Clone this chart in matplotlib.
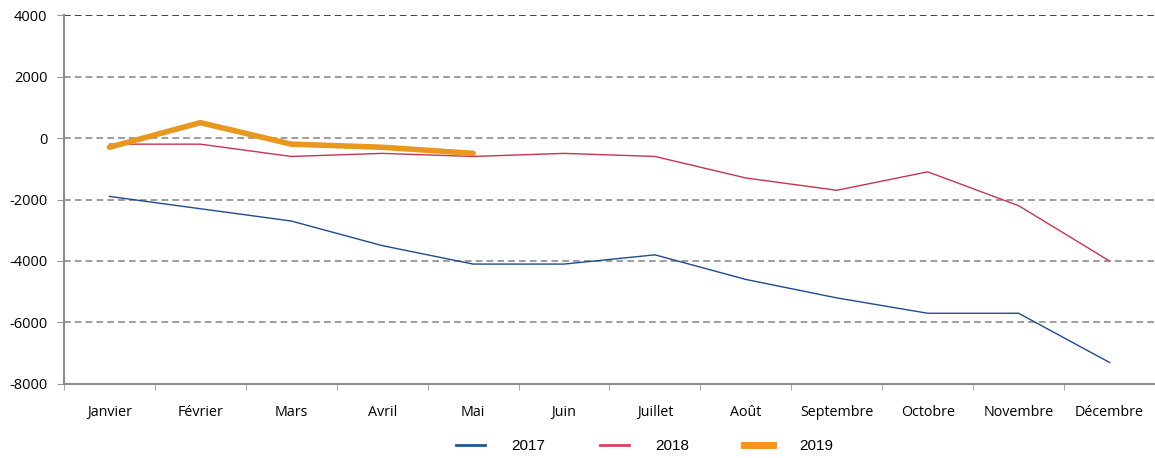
import matplotlib.pyplot as plt
from matplotlib.lines import Line2D

months = ['Janvier', 'Février', 'Mars', 'Avril', 'Mai', 'Juin', 'Juillet',
          'Août', 'Septembre', 'Octobre', 'Novembre', 'Décembre']
v2017 = [-1900, -2300, -2700, -3500, -4100, -4100, -3800, -4600, -5200, -5700, -5700, -7300]
v2018 = [-200, -200, -600, -500, -600, -500, -600, -1300, -1700, -1100, -2200, -4000]
v2019 = [-300, 500, -200, -300, -500]

plt.rcParams['font.family'] = ['Open Sans', 'DejaVu Sans']
plt.rcParams['axes.unicode_minus'] = False

fig = plt.figure(figsize=(11.55, 4.58), dpi=100)
ax = fig.add_axes([0.0554, 0.1616, 0.9446, 0.8056])

x = list(range(len(months)))
ax.plot(x, v2017, color='#1f4b8f', lw=1.0)
ax.plot(x, v2018, color='#c8344f', lw=1.0)
ax.plot(x[:len(v2019)], v2019, color='#e8981e', lw=4, solid_capstyle='round')

ax.set_xlim(-0.5, 11.5)
ax.set_ylim(-8000, 4000)
ax.set_yticks(range(-8000, 4001, 2000))
ax.set_xticks(x)
ax.set_xticklabels(months, fontsize=10.3)
ax.set_xticks([i - 0.5 for i in range(13)], minor=True)
ax.tick_params(axis='x', which='major', length=0, pad=15)
ax.tick_params(axis='x', which='minor', length=4, color='#999999')
ax.tick_params(axis='y', length=5, color='#999999', labelsize=10.5, pad=7)

for yv in range(-6000, 4001, 2000):
    col = '#222222' if yv == 4000 else '#8c8c8c'
    ax.axhline(yv, color=col, lw=1.2, ls=(0, (4, 2.5)), zorder=0)

for s in ['top', 'right']:
    ax.spines[s].set_visible(False)
ax.spines['left'].set_color('#8c8c8c')
ax.spines['left'].set_linewidth(1.5)
ax.spines['bottom'].set_color('#8c8c8c')
ax.spines['bottom'].set_linewidth(1.5)
ax.spines['bottom'].set_linestyle((0, (4, 1)))

handles = [Line2D([], [], color='#1f5a9e', lw=2),
           Line2D([], [], color='#d9425d', lw=2),
           Line2D([], [], color='#f7941d', lw=5)]
fig.legend(handles, ['2017', '2018', '2019'], loc='center', bbox_to_anchor=(0.558, 0.026),
           ncol=3, frameon=False, handlelength=1.9, handletextpad=1.7, columnspacing=3.6,
           prop={'family': 'Liberation Sans', 'size': 11})

fig.savefig('out.png', dpi=100)
